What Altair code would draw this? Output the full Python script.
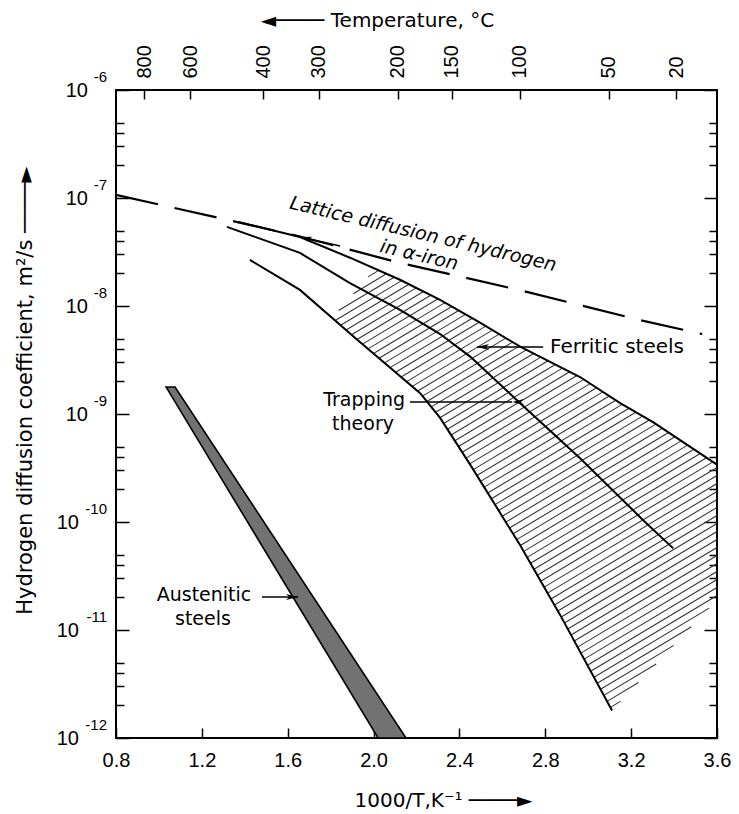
import altair as alt
import numpy as np
import pandas as pd

# ---------------- values ----------------
# Lattice diffusion of hydrogen in alpha-iron (dashed)
lat_x = [0.80, 1.285, 1.657, 2.109, 2.683, 3.242, 3.531]
lat_d = [1.07e-7, 6.5e-8, 4.4e-8, 2.55e-8, 1.4e-8, 7.4e-9, 5.5e-9]

# Ferritic steels: upper bound, trapping theory, lower bound
up_x = [1.369, 1.657, 1.890, 2.123, 2.310, 2.496, 2.683, 2.962, 3.149, 3.302, 3.600]
up_d = [6.0e-8, 4.35e-8, 2.8e-8, 1.75e-8, 1.14e-8, 7.0e-9, 4.2e-9, 2.2e-9, 1.26e-9, 8.4e-10, 3.4e-10]

mid_x = [1.317, 1.657, 1.890, 2.123, 2.310, 2.450, 2.683, 2.962, 3.256, 3.396]
mid_d = [5.4e-8, 3.1e-8, 1.63e-8, 9.2e-9, 5.5e-9, 3.4e-9, 1.26e-9, 3.9e-10, 1.04e-10, 5.7e-11]

low_x = [1.424, 1.657, 1.928, 2.217, 2.310, 2.450, 2.683, 2.869, 3.111]
low_d = [2.67e-8, 1.41e-8, 4.8e-9, 1.56e-9, 9.2e-10, 3.4e-10, 6.1e-11, 1.38e-11, 1.8e-12]

# hatched scatter band limits
hatch_low_x = 1.807      # where hatching starts on the lower bound
hatch_up_x = 2.007       # where hatching starts on the upper bound
rag_x, rag_d = 3.6, 1.9e-11   # top of the ragged lower-right edge

# Austenitic steels band (top and bottom edges)
aus_y = [1.78e-9, 1.0e-12]
aus_left = [1.033, 2.021]
aus_right = [1.075, 2.151]

# axes
x_ticks = [0.8, 1.2, 1.6, 2.0, 2.4, 2.8, 3.2, 3.6]
temp_c = [800, 600, 400, 300, 200, 150, 100, 50, 20]
dec_exp = [-6, -7, -8, -9, -10, -11, -12]
minor_mult = [2, 3, 4, 5]

# annotations
ann_text = ["Ferritic steels", "Trapping", "theory", "Austenitic", "steels"]
ann_x = [2.822, 1.956, 1.951, 1.210, 1.205]
ann_y = [4.17e-9, 1.35e-9, 8.1e-10, 2.11e-11, 1.27e-11]
ann_align = ["left", "center", "center", "center", "center"]

lat_text = ["Lattice diffusion of hydrogen", "in \u03b1-iron"]
lat_tx = [2.231, 2.212]
lat_ty = [4.64e-8, 2.96e-8]

arrow_name = ["ferritic", "trapping", "austenitic", "lattice"]
arrow_tail_x = [2.790, 2.170, 1.480, 1.844]
arrow_tail_y = [4.17e-9, 1.29e-9, 2.02e-11, 3.6e-8]
arrow_tip_x = [2.482, 2.645, 1.648, 1.657]
arrow_tip_y = [4.17e-9, 1.29e-9, 2.02e-11, 4.35e-8]
arrow_angle = [0, 0, 180, 13]

# ---------------- chart ----------------
FONT = "DejaVu Sans"
NUM = "Liberation Sans"
W, H = 601, 648
xs = alt.Scale(domain=[0.8, 3.6], nice=False, zero=False)
ys = alt.Scale(type="log", domain=[1e-12, 1e-6], nice=False)


def X(f="x"):
    return alt.X(f"{f}:Q", scale=xs, axis=None)


def Y(f="y"):
    return alt.Y(f"{f}:Q", scale=ys, axis=None)


# hatch lines clipped to the ferritic band polygon (in x / log10 D space)
lx, ll = np.array(low_x), np.log10(low_d)
ux, ul = np.array(up_x), np.log10(up_d)
poly = [(hatch_low_x, float(np.interp(hatch_low_x, lx, ll)))]
poly += [(a, b) for a, b in zip(lx, ll) if a > hatch_low_x]
poly += [(rag_x, np.log10(rag_d))]
poly += [(a, b) for a, b in zip(ux[::-1], ul[::-1]) if a > hatch_up_x]
poly += [(hatch_up_x, float(np.interp(hatch_up_x, ux, ul)))]
m = 0.6 * (W / 2.8) / (H / 6.0)      # hatch slope (rise 0.6 px per px)
step = 8.0 / (H / 6.0)               # 8 px vertical spacing
ks = [b - m * a for a, b in poly]
rows = []
k = min(ks) + step / 2
while k < max(ks):
    cuts = []
    n = len(poly)
    for i in range(n):
        x1, l1 = poly[i]
        x2, l2 = poly[(i + 1) % n]
        f1, f2 = l1 - m * x1 - k, l2 - m * x2 - k
        if (f1 > 0) != (f2 > 0):
            t = f1 / (f1 - f2)
            cuts.append(x1 + t * (x2 - x1))
    cuts.sort()
    for j in range(0, len(cuts) - 1, 2):
        a, b = cuts[j], cuts[j + 1]
        rows.append({"x1": a, "y1": 10 ** (k + m * a), "x2": b, "y2": 10 ** (k + m * b)})
    k += step
hatch = pd.DataFrame(rows)

hatch_layer = alt.Chart(hatch).mark_rule(color="#333333", strokeWidth=1.05).encode(
    x=X("x1"), x2="x2:Q", y=Y("y1"), y2="y2:Q")

band = pd.DataFrame({"y": aus_y, "xl": aus_left, "xr": aus_right})
band_layer = alt.Chart(band).mark_area(
    orient="horizontal", fill="#727272", stroke="black", strokeWidth=1.6
).encode(x=X("xl"), x2="xr:Q", y=Y("y"))

lat = pd.DataFrame({"x": lat_x, "y": lat_d})
lat_layer = alt.Chart(lat).mark_line(color="black", strokeWidth=2.2, strokeDash=[43, 17]).encode(
    x=X(), y=Y())


def cdf(xv, dv, name):
    return pd.DataFrame({"x": xv, "y": dv, "s": name, "o": list(range(len(xv)))})


solid = pd.concat([cdf(up_x, up_d, "upper"), cdf(mid_x, mid_d, "trap"), cdf(low_x, low_d, "lower")])
solid_layer = alt.Chart(solid).mark_line(color="black", strokeWidth=2).encode(
    x=X(), y=Y(), detail="s:N", order="o:Q")

arr_rows = []
for nm, tx, ty, hx, hy in zip(arrow_name, arrow_tail_x, arrow_tail_y, arrow_tip_x, arrow_tip_y):
    arr_rows.append({"a": nm, "o": 0, "x": tx, "y": ty})
    arr_rows.append({"a": nm, "o": 1, "x": hx, "y": hy})
arr_layer = alt.Chart(pd.DataFrame(arr_rows)).mark_line(color="black", strokeWidth=1.6).encode(
    x=X(), y=Y(), detail="a:N", order="o:Q")
heads = pd.DataFrame({"x": arrow_tip_x, "y": arrow_tip_y, "ang": arrow_angle})
head_layer = alt.Chart(heads).mark_point(
    shape="M0,0L2.2,-0.55L1.6,0L2.2,0.55Z", filled=True, color="black", opacity=1, size=120
).encode(x=X(), y=Y(), angle=alt.Angle("ang:Q", scale=None))

ann = pd.DataFrame({"t": ann_text, "x": ann_x, "y": ann_y, "al": ann_align})
ann_left = alt.Chart(ann[ann.al == "left"]).mark_text(
    align="left", baseline="middle", font=FONT, fontSize=20, color="black"
).encode(x=X(), y=Y(), text="t:N")
ann_center = alt.Chart(ann[ann.al == "center"]).mark_text(
    align="center", baseline="middle", font=FONT, fontSize=19, color="black"
).encode(x=X(), y=Y(), text="t:N")
latt = pd.DataFrame({"t": lat_text, "x": lat_tx, "y": lat_ty})
lat_text_layer = alt.Chart(latt).mark_text(
    align="center", baseline="middle", font=FONT, fontSize=19, fontStyle="italic",
    angle=13.3, color="black"
).encode(x=X(), y=Y(), text="t:N")

# left tick labels: "10" with a raised exponent
labs = pd.DataFrame({"v": [10.0 ** e for e in dec_exp], "b": "10",
                     "e": [str(e) for e in dec_exp], "n": [len(str(abs(e))) for e in dec_exp]})
lab_layers = []
for nd, base_x in [(1, -28), (2, -37)]:
    sub = labs[labs.n == nd]
    lab_layers.append(alt.Chart(sub).mark_text(
        align="right", baseline="middle", font=NUM, fontSize=20, color="black", dy=1
    ).encode(x=alt.value(base_x), y=Y("v"), text="b:N"))
lab_layers.append(alt.Chart(labs).mark_text(
    align="right", baseline="middle", font=NUM, fontSize=15, color="black", dy=-13
).encode(x=alt.value(-9), y=Y("v"), text="e:N"))

# axis carriers (invisible points)
carrier = pd.DataFrame({"x": [0.8, 3.6], "y": [1e-12, 1e-6]})
temp_pos = [1000.0 / (t + 273.15) for t in temp_c]
decades = [10.0 ** e for e in dec_exp]
minors = [mm * 10.0 ** e for e in range(-12, -6) for mm in minor_mult]
common = dict(domain=False, grid=False, tickColor="black", tickWidth=1.5,
              labelColor="black", titleColor="black")

ax_bottom = alt.Axis(orient="bottom", values=x_ticks, format=".1f", tickSize=10, offset=-10,
                     labelPadding=12, labelFont=NUM, labelFontSize=20, labelFlush=False,
                     labelOverlap=False, title="1000/T,K\u207b\u00b9  \u2500\u2500\u2500\u2500\u25ba",
                     titleFont=FONT, titleFontSize=20, titleFontWeight="normal",
                     titleX=327, titleY=72, titleBaseline="middle", titleAlign="center", **common)
ax_top = alt.Axis(orient="top", values=temp_pos, labelExpr="format(1000/datum.value - 273.15, '.0f')",
                  labelAngle=270, labelAlign="left", labelBaseline="middle", tickSize=9, offset=-9,
                  labelPadding=12, labelFont=NUM, labelFontSize=20, labelFlush=False,
                  labelOverlap=False, title="\u25c4\u2500\u2500\u2500\u2500 Temperature, \u00b0C",
                  titleFont=FONT, titleFontSize=20, titleFontWeight="normal",
                  titleX=261, titleY=-79, titleBaseline="middle", titleAlign="center", **common)
ax_left = alt.Axis(orient="left", values=decades, labels=False, tickSize=13, offset=-13,
                   title="Hydrogen diffusion coefficient,  m\u00b2/s  \u2500\u2500\u2500\u2500\u25ba",
                   titleFont=FONT, titleFontSize=21, titleFontWeight="normal", titleAngle=270,
                   titleX=-104, titleY=300, titleBaseline="middle", titleAlign="center", **common)
ax_left_minor = alt.Axis(orient="left", values=minors, labels=False, tickSize=8, offset=-8,
                         title=None, **common)
ax_right = alt.Axis(orient="right", values=decades, labels=False, tickSize=13, offset=-13,
                    title=None, **common)
ax_right_minor = alt.Axis(orient="right", values=minors, labels=False, tickSize=8, offset=-8,
                          title=None, **common)


def carrier_layer(xa, ya):
    return alt.Chart(carrier).mark_point(opacity=0).encode(
        x=alt.X("x:Q", scale=xs, axis=xa), y=alt.Y("y:Q", scale=ys, axis=ya))


layers = [
    carrier_layer(ax_bottom, ax_left),
    carrier_layer(ax_top, ax_right),
    carrier_layer(None, ax_left_minor),
    carrier_layer(None, ax_right_minor),
    hatch_layer, band_layer, lat_layer, solid_layer, arr_layer, head_layer,
    ann_left, ann_center, lat_text_layer,
] + lab_layers

chart = alt.layer(*layers).properties(
    width=W, height=H,
    padding={"left": 116, "top": 90, "right": 22, "bottom": 76},
    autosize=alt.AutoSizeParams(type="none"),
    background="white",
).resolve_axis(x="independent", y="independent").configure_view(stroke="black", strokeWidth=2)

chart.save("out.html", embed_options={"renderer": "svg", "actions": False})
